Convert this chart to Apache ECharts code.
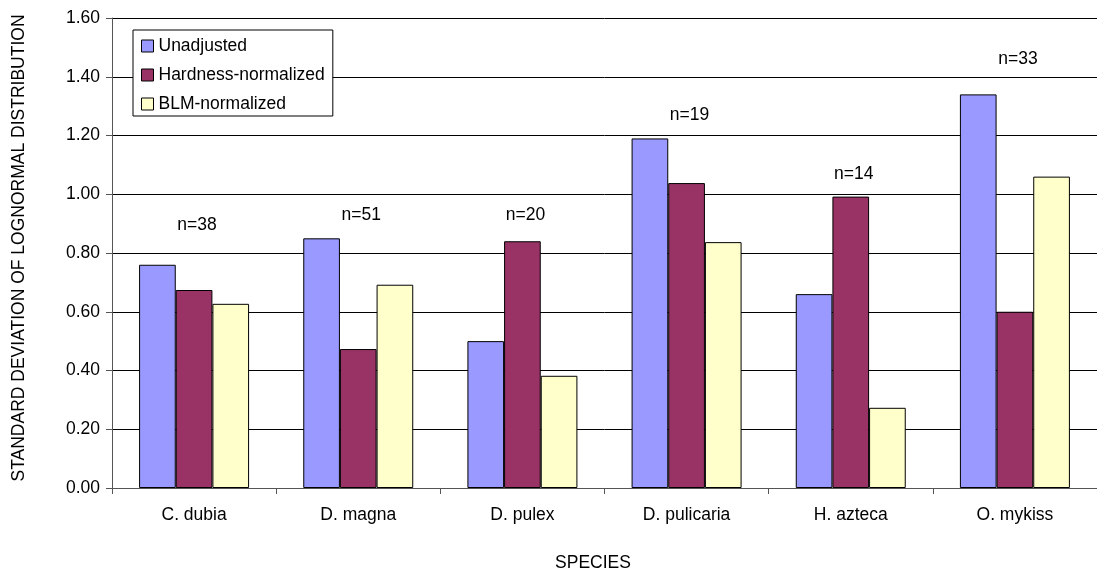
<!DOCTYPE html>
<html>
<head>
<meta charset="utf-8">
<script src="https://cdn.jsdelivr.net/npm/echarts@6/dist/echarts.min.js"></script>
<style>html,body{margin:0;padding:0;background:#fff;}#c{width:1097px;height:571px;}</style>
</head>
<body>
<div id="c"></div>
<script>
const categories = ['C. dubia', 'D. magna', 'D. pulex', 'D. pulicaria', 'H. azteca', 'O. mykiss'];
const unadjusted = [0.76, 0.85, 0.50, 1.19, 0.66, 1.34];
const hardnessNormalized = [0.674, 0.473, 0.84, 1.038, 0.992, 0.60];
const blmNormalized = [0.627, 0.692, 0.382, 0.837, 0.273, 1.06];
const nLabels = ['n=38', 'n=51', 'n=20', 'n=19', 'n=14', 'n=33'];
const nLabelHeights = [0.895, 0.93, 0.93, 1.27, 1.07, 1.46];

const FONT = 'Liberation Sans, Arial, sans-serif';
const chart = echarts.init(document.getElementById('c'), null, {renderer: 'canvas'});
const barStyle = (c) => ({color: c, borderColor: '#000', borderWidth: 1});

chart.setOption({
  animation: false,
  backgroundColor: '#fff',
  textStyle: {fontFamily: FONT},
  grid: {left: 112, top: 18, width: 995, height: 470},
  legend: {
    orient: 'vertical',
    left: 133, top: 30,
    data: ['Unadjusted', 'Hardness-normalized', 'BLM-normalized'],
    icon: 'rect',
    itemWidth: 12, itemHeight: 12, itemGap: 11,
    padding: [7, 8, 3, 8],
    borderColor: '#000', borderWidth: 1,
    backgroundColor: '#fff',
    textStyle: {fontFamily: FONT, fontSize: 17.5, color: '#000'},
    itemStyle: {borderColor: '#000', borderWidth: 1}
  },
  xAxis: {
    type: 'category',
    data: categories,
    axisLine: {lineStyle: {color: '#555', width: 1}},
    axisTick: {show: true, length: 6, lineStyle: {color: '#555'}},
    axisLabel: {fontFamily: FONT, fontSize: 17.5, color: '#000', margin: 18},
    splitLine: {show: false}
  },
  yAxis: {
    type: 'value',
    min: 0, max: 1.6, interval: 0.2,
    axisLine: {show: true, lineStyle: {color: '#555', width: 1}},
    axisTick: {show: true, length: 6, lineStyle: {color: '#555'}},
    axisLabel: {fontFamily: FONT, fontSize: 17.5, color: '#000', margin: 12,
      formatter: (v) => v.toFixed(2)},
    splitLine: {show: true, lineStyle: {color: '#000', width: 1}}
  },
  graphic: [
    {type: 'text', x: 19, y: 248, rotation: Math.PI / 2,
      style: {text: 'STANDARD DEVIATION OF LOGNORMAL DISTRIBUTION', font: '17.5px ' + FONT, fill: '#000', align: 'center', verticalAlign: 'middle'}},
    {type: 'text', x: 593, y: 563,
      style: {text: 'SPECIES', font: '17.5px ' + FONT, fill: '#000', align: 'center', verticalAlign: 'middle'}}
  ],
  series: [
    {name: 'Unadjusted', type: 'bar', data: unadjusted, barGap: '0%', barCategoryGap: '33%', itemStyle: barStyle('#9999FF')},
    {name: 'Hardness-normalized', type: 'bar', data: hardnessNormalized, itemStyle: barStyle('#993366')},
    {name: 'BLM-normalized', type: 'bar', data: blmNormalized, itemStyle: barStyle('#FFFFCC')},
    {name: 'n', type: 'scatter', symbolSize: 2, itemStyle: {color: 'rgba(0,0,0,0)'},
      data: categories.map((c, i) => ({value: [i, nLabelHeights[i]], label: {formatter: nLabels[i]}})),
      label: {show: true, position: 'inside', offset: [3, 0], fontFamily: FONT, fontSize: 17.5,
        color: '#000', textBorderWidth: 0, opacity: 1},
      emphasis: {disabled: true},
      z: 5}
  ]
});
</script>
</body>
</html>
